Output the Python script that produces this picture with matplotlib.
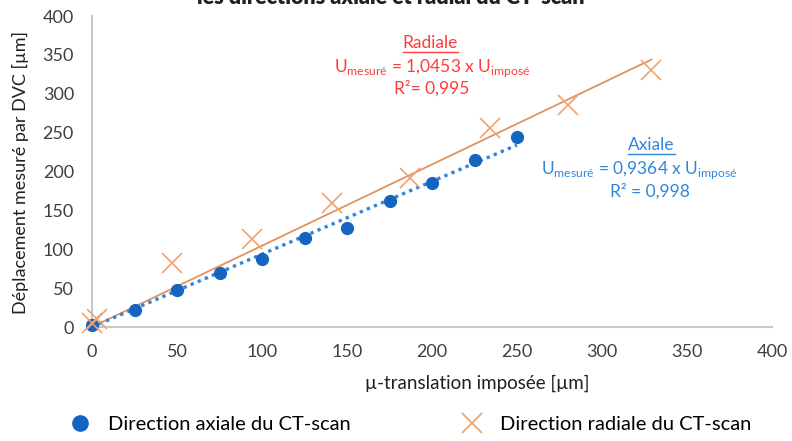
import matplotlib
matplotlib.use("Agg")
from matplotlib import pyplot as plt
from matplotlib.lines import Line2D

plt.rcParams['font.family'] = ['Lato', 'DejaVu Sans']

# data
axial_x = [0, 25, 50, 75, 100, 125, 150, 175, 200, 225, 250]
axial_y = [2, 22, 48, 69, 88, 114, 127, 162, 185, 215, 244]
radial_x = [0, 3, 47, 94, 141, 187, 234, 280, 329]
radial_y = [5, 10, 82, 113, 159, 191, 256, 286, 331]
slope_axial = 0.9364
slope_radial = 1.0453
ticks = [0, 50, 100, 150, 200, 250, 300, 350, 400]

blue = '#1565C0'
blue_line = '#2E86DE'
orange = '#F4A16B'
orange_line = '#E0935C'
red = '#FF3B3B'

fig = plt.figure(figsize=(7.92, 4.41), dpi=100)
ax = fig.add_axes([92/792, 1-327/441, 680/792, 311/441])

# trendlines
ax.plot([0, max(radial_x)], [0, slope_radial*max(radial_x)], color=orange_line, lw=1.3, zorder=2)
ax.plot([0, max(axial_x)], [0, slope_axial*max(axial_x)], color=blue_line, lw=2.4,
        linestyle=(0, (1, 1.3)), zorder=2)

# points
ax.plot(axial_x, axial_y, 'o', color=blue, ms=8.5, zorder=3, clip_on=False)
ax.plot(radial_x, radial_y, 'x', color=orange, ms=14, mew=1.2, zorder=4, clip_on=False)

ax.set_xlim(0, 400)
ax.set_ylim(0, 400)
ax.set_xticks(ticks)
ax.set_yticks(ticks)
for s in ['top', 'right']:
    ax.spines[s].set_visible(False)
for s in ['left', 'bottom']:
    ax.spines[s].set_color('#C8C8C8')
    ax.spines[s].set_linewidth(1.5)
ax.tick_params(length=0, labelsize=13, colors='#404040')
ax.tick_params(axis='y', pad=13)
ax.tick_params(axis='x', pad=12)

fig.text(20/792, 1-172/441, 'Déplacement mesuré par DVC [µm]', rotation=90,
         ha='center', va='center', fontsize=13, color='#202020')
fig.text(477/792, 1-383/441, 'µ-translation imposée [µm]', ha='center', va='center',
         fontsize=13.5, color='#202020')

# title, cut by the top edge as in the reference
fig.text(391/792, 1-4/441, 'Déplacement mesuré en fonction de la µ-translation imposée selon\nles directions axiale et radial du CT-scan',
         ha='center', va='baseline', fontsize=15.5, fontweight='heavy', color='#202020',
         linespacing=1.2)

# equations
t1 = ax.text(199, 365, 'Radiale', ha='center', va='center', fontsize=12.5, color=red)
ax.text(200, 333, r'U$_{\mathregular{mesuré}}$ = 1,0453 x U$_{\mathregular{imposé}}$',
        ha='center', va='center', fontsize=12.5, color=red)
ax.text(200, 307, 'R²= 0,995', ha='center', va='center', fontsize=12.5, color=red)

t2 = ax.text(329, 234, 'Axiale', ha='center', va='center', fontsize=12.5, color=blue_line)
ax.text(322, 202, r'U$_{\mathregular{mesuré}}$ = 0,9364 x U$_{\mathregular{imposé}}$',
        ha='center', va='center', fontsize=12.5, color=blue_line)
ax.text(328, 174, 'R² = 0,998', ha='center', va='center', fontsize=12.5, color=blue_line)

# underline the two headers
fig.canvas.draw()
r = fig.canvas.get_renderer()
for t, c in [(t1, red), (t2, blue_line)]:
    bb = t.get_window_extent(r)
    y = bb.y0 - 1
    fig.add_artist(Line2D([bb.x0/792, bb.x1/792], [y/441, y/441], color=c, lw=1))

# legend
h1 = Line2D([], [], marker='o', color=blue, ls='none', ms=11)
h2 = Line2D([], [], marker='x', color=orange, ls='none', ms=14, mew=1.3)
fig.legend([h1, h2], ['Direction axiale du CT-scan', 'Direction radiale du CT-scan'],
           loc='center left', bbox_to_anchor=(52/792, 1-424/441), ncol=2, frameon=False,
           fontsize=14.5, handlelength=1.0, handletextpad=0.9, columnspacing=5.5)

plt.savefig('out.png', dpi=100)
